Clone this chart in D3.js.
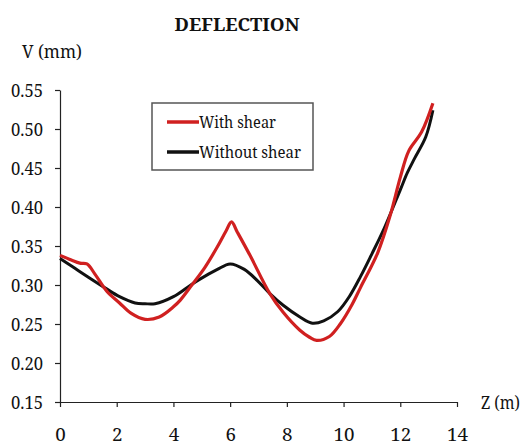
<!DOCTYPE html>
<html><head><meta charset="utf-8">
<script src="https://cdn.jsdelivr.net/npm/d3@7"></script>
<style>body{margin:0;background:#fff}svg{display:block}</style>
</head><body>
<script>
const zWith = [0,0.4,0.7,0.95,1.25,1.65,2.1,2.5,3.0,3.5,4.0,4.25,4.65,5.1,5.55,5.85,6.05,6.25,6.7,7.4,7.87,8.46,8.8,9.05,9.5,9.9,10.3,10.6,11.2,11.65,12.0,12.3,12.75,13.15];
const vWith = [0.338,0.332,0.328,0.327,0.313,0.292,0.277,0.264,0.256,0.259,0.272,0.281,0.300,0.322,0.349,0.369,0.381,0.368,0.338,0.289,0.265,0.242,0.233,0.229,0.234,0.251,0.275,0.297,0.341,0.390,0.438,0.472,0.496,0.533];
const zWithout = [0,0.5,1.0,1.6,2.1,2.65,3.0,3.35,4.0,4.65,5.1,5.55,6.0,6.5,6.95,7.4,7.87,8.46,8.9,9.3,9.8,10.2,10.6,11.0,11.4,12.0,12.25,12.5,12.9,13.15];
const vWithout = [0.334,0.322,0.310,0.296,0.285,0.277,0.276,0.276,0.285,0.301,0.311,0.320,0.327,0.320,0.306,0.289,0.274,0.259,0.251,0.254,0.266,0.285,0.311,0.340,0.370,0.422,0.444,0.462,0.490,0.524];
const xTicks = [0,2,4,6,8,10,12,14];
const yTicks = [0.15,0.20,0.25,0.30,0.35,0.40,0.45,0.50,0.55];
const seriesNames = ["With shear","Without shear"];
const seriesColors = ["#d02020","#111111"];

const FONT = "'Noto Serif', 'DejaVu Serif', serif";
const W=529,H=448;
const svg=d3.select("body").append("svg").attr("width",W).attr("height",H);
const x=d3.scaleLinear().domain([0,14]).range([60,457]);
const y=d3.scaleLinear().domain([0.15,0.55]).range([402,90]);

const xAxis=svg.append("g").attr("transform","translate(0,402)")
  .call(d3.axisBottom(x).tickValues(xTicks).tickSize(5).tickSizeOuter(0).tickPadding(21).tickFormat(d3.format("d")));
const yAxis=svg.append("g").attr("transform","translate(60,0)")
  .call(d3.axisLeft(y).tickValues(yTicks).tickSize(5).tickSizeOuter(0).tickPadding(12).tickFormat(d3.format(".2f")));
[xAxis,yAxis].forEach(g=>{
  g.attr("font-family",null).attr("font-size",null);
  g.selectAll("path,line").attr("stroke","#222").attr("stroke-width",1.2);
  g.selectAll("text").style("font-family",FONT).attr("fill","#111");
});
xAxis.selectAll("text").style("font-size","18.5px")
  .attr("textLength",d=>d>=10?21:10.5).attr("lengthAdjust","spacingAndGlyphs");
yAxis.selectAll("text").style("font-size","18px").attr("dy","0.36em")
  .attr("textLength",32).attr("lengthAdjust","spacingAndGlyphs");

const lineSmooth=d3.line().x(d=>x(d[0])).y(d=>y(d[1])).curve(d3.curveCatmullRom.alpha(0.5));
const dWith=zWith.map((z,i)=>[z,vWith[i]]);
const dWithout=zWithout.map((z,i)=>[z,vWithout[i]]);
svg.append("path").datum(dWithout).attr("d",lineSmooth).attr("fill","none").attr("stroke",seriesColors[1]).attr("stroke-width",3);
svg.append("path").datum(dWith).attr("d",lineSmooth).attr("fill","none").attr("stroke",seriesColors[0]).attr("stroke-width",3.2).attr("stroke-linejoin","round");

function txt(xp,yp,s,size,len,bold,anchor){
  return svg.append("text").attr("x",xp).attr("y",yp).attr("text-anchor",anchor||"start")
    .style("font-family",FONT).style("font-size",size+"px").style("font-weight",bold?"bold":"normal")
    .attr("textLength",len).attr("lengthAdjust","spacingAndGlyphs").attr("fill","#111").text(s);
}
txt(237,31,"DEFLECTION",18,125,true,"middle");
txt(22,58,"V (mm)",18,60);
txt(481,409,"Z (m)",18,39);

const lg=svg.append("g");
lg.append("rect").attr("x",152).attr("y",103).attr("width",161).attr("height",67).attr("fill","#fff").attr("stroke","#555").attr("stroke-width",1.5);
[122,152].forEach((ly,i)=>{
  lg.append("line").attr("x1",167).attr("x2",199).attr("y1",ly).attr("y2",ly).attr("stroke",seriesColors[i]).attr("stroke-width",3.5);
  txt(199,ly+6,seriesNames[i],17,i?102:77);
});
</script>
</body></html>
